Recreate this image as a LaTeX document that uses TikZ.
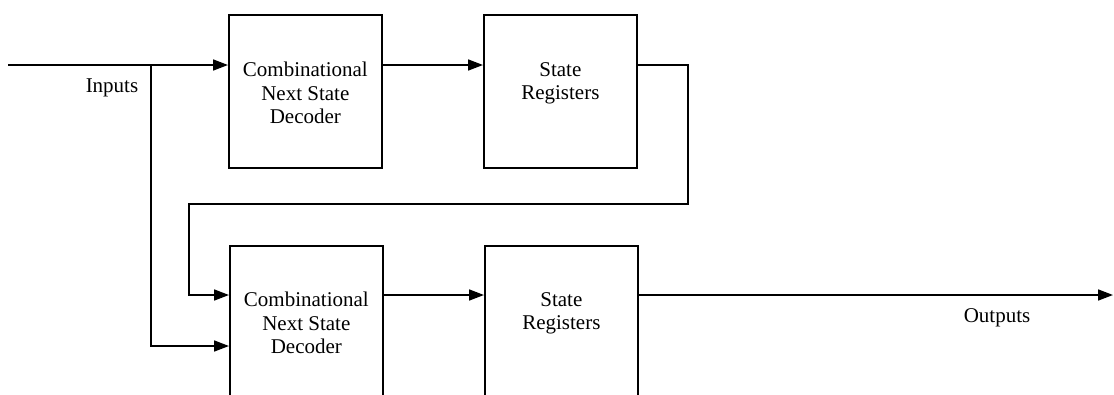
\documentclass[tikz,border=0pt]{standalone}
\usepackage{fontspec}
\setmainfont{Liberation Serif}
\usetikzlibrary{arrows.meta}
\begin{document}
\begin{tikzpicture}[x=1pt,y=-1pt,
  blk/.style={draw,line width=1.7pt,minimum width=153pt,minimum height=153pt,inner sep=0pt,anchor=north west},
  lbl/.style={font=\fontsize{21}{23.5}\selectfont,align=center,inner sep=0pt,anchor=north},
  wire/.style={line width=1.7pt},
  arr/.style={wire,-{Triangle[length=15pt,width=11pt]}}]
\useasboundingbox (0,0) rectangle (1114,394);
\clip (0,0) rectangle (1114,394);
% boxes
\node[blk] (b1) at (228,14) {};
\node[blk] (b2) at (483,14) {};
\node[blk] (b3) at (229,245) {};
\node[blk] (b4) at (484,245) {};
% labels
\node[lbl] (t1) at ([yshift=-48]b1.north) {Combinational\\Next State\\Decoder};
\node[lbl] (t2) at ([yshift=-48]b2.north) {State\\Registers};
\node[lbl] (t3) at ([yshift=-47]b3.north) {Combinational\\Next State\\Decoder};
\node[lbl] (t4) at ([yshift=-47]b4.north) {State\\Registers};
\node[font=\fontsize{21}{23.5}\selectfont,inner sep=0pt] (inlbl) at (112,88) {Inputs};
\node[font=\fontsize{21}{23.5}\selectfont,inner sep=0pt] (outlbl) at (997,318) {Outputs};
% coordinates
\coordinate (inL) at (8,65);
\coordinate (j1) at (151,65);
\coordinate (jd) at (151,346);
\coordinate (fbA) at (688,65);
\coordinate (fbB) at (688,204);
\coordinate (fbC) at (189,204);
\coordinate (fbD) at (189,295);
\coordinate (outR) at (1113,295);
% connectors
\draw[wire] (inL) -- (j1);
\draw[arr] (j1) -- (b1.west |- j1);
\draw[arr] (b1.east |- j1) -- (b2.west |- j1);
\draw[arr] (b2.east |- j1) -- (fbA) -- (fbB) -- (fbC) -- (fbD) -- (b3.west |- fbD);
\draw[arr] (j1) -- (jd) -- (b3.west |- jd);
\draw[arr] (b3.east |- fbD) -- (b4.west |- fbD);
\draw[arr] (b4.east |- fbD) -- (outR);
\end{tikzpicture}
\end{document}
